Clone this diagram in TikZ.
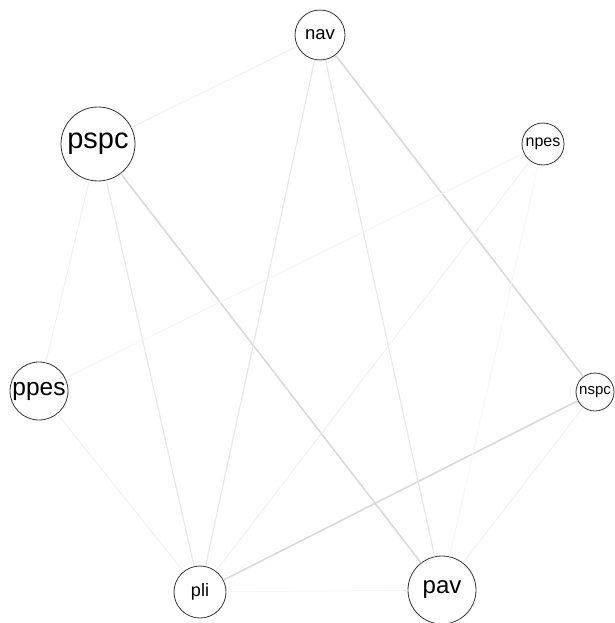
\documentclass[tikz,border=0pt]{standalone}
\usepackage{fontspec}
\setsansfont{Liberation Sans}

\begin{document}
\begin{tikzpicture}[x=1pt, y=-1pt,
    vertex/.style={circle, draw=black!80, line width=0.8pt, fill=white, inner sep=0pt},
    strong/.style={line width=1.6pt, draw=black!15},
    medium/.style={line width=1.2pt, draw=black!9},
    faint/.style={line width=1pt, draw=black!6},
    vfaint/.style={line width=1pt, draw=black!4}]
    \useasboundingbox (0,0) rectangle (614,623);

    \node [vertex, minimum size=50pt, font=\sffamily\fontsize{18.5}{20}\selectfont] (nav) at (320,35) {nav};
    \node [vertex, minimum size=74pt, font=\sffamily\fontsize{29}{31}\selectfont] (pspc) at (98,144) {pspc};
    \node [vertex, minimum size=42pt, font=\sffamily\fontsize{16}{18}\selectfont] (npes) at (543,144) {npes};
    \node [vertex, minimum size=58pt, font=\sffamily\fontsize{24.5}{26}\selectfont] (ppes) at (39,391) {ppes};
    \node [vertex, minimum size=38pt, font=\sffamily\fontsize{15}{17}\selectfont] (nspc) at (595,392) {nspc};
    \node [vertex, minimum size=52pt, font=\sffamily\fontsize{18}{20}\selectfont] (pli) at (200,592) {pli};
    \node [vertex, minimum size=68pt, font=\sffamily\fontsize{24}{26}\selectfont] (pav) at (442,590) {pav};

    % heavier ties
    \draw [strong] (nav) -- (nspc);
    \draw [strong] (pspc) -- (pav);
    \draw [strong] (nspc) -- (pli);
    \draw [medium] (nav) -- (pli);
    \draw [medium] (nav) -- (pav);
    \draw [medium] (pspc) -- (pli);
    % lighter ties
    \draw [faint] (npes) -- (pli);
    \draw [faint] (pspc) -- (ppes);
    \draw [faint] (nav) -- (pspc);
    \draw [faint] (ppes) -- (pli);
    \draw [faint] (nspc) -- (pav);
    \draw [vfaint] (npes) -- (ppes);
    \draw [vfaint] (npes) -- (pav);
    \draw [vfaint] (pli) -- (pav);
\end{tikzpicture}
\end{document}
